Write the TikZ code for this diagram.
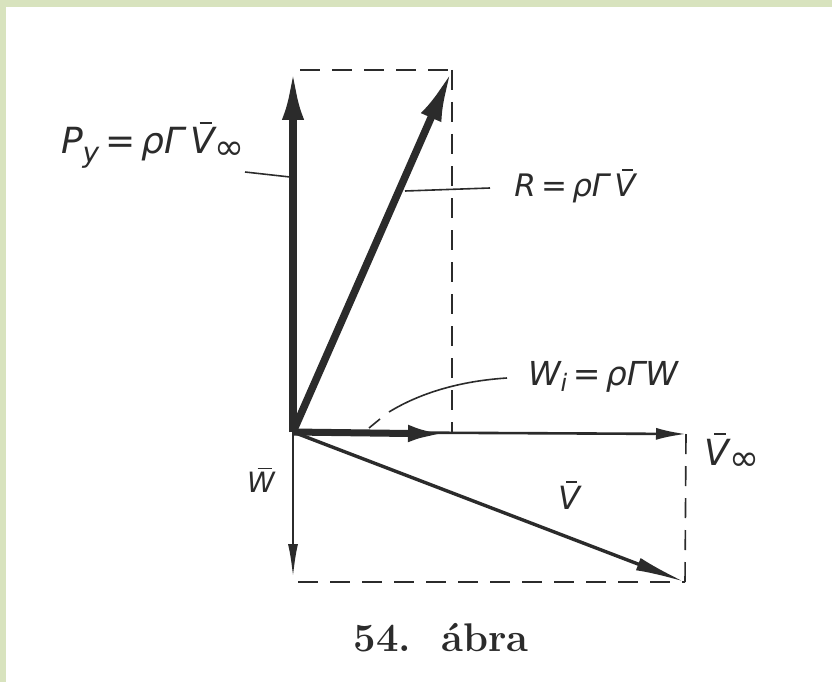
\documentclass[tikz,border=0pt]{standalone}
\usepackage{fontspec}
\newfontfamily\hand{DejaVu Sans}
\usetikzlibrary{arrows.meta}
\definecolor{bord}{HTML}{D8E3BE}
\definecolor{ink}{HTML}{2B2B2B}
\newcommand\ovbar[1]{\setbox0\hbox{#1}\rlap{\kern.38\wd0\raisebox{\dimexpr\ht0+.1em\relax}{\rule{.5\wd0}{.06em}}}#1}
\begin{document}
\begin{tikzpicture}[x=1pt,y=-1pt,
  dsh/.style={draw=ink, line width=1.6pt, dash pattern=on 20pt off 12pt},
  lead/.style={draw=ink, line width=1.6pt},
  lbl/.style={text=ink, inner sep=0pt, font=\hand\itshape},
  vec/.style={draw=ink}]
\fill[bord] (0,0) rectangle (832,682);
\fill[white] (6,7) rectangle (832,682);
\useasboundingbox (0,0) rectangle (832,682);

\coordinate (O) at (293,432);
\coordinate (T) at (293,70);
\coordinate (Rt) at (452,70);
\coordinate (Rb) at (452,432);
\coordinate (Wi) at (448,434);
\coordinate (Vi) at (686,434);
\coordinate (V) at (685,582);
\coordinate (W) at (293,578);
\coordinate (Bl) at (298,582);
\coordinate (Tl) at (300,70);

% dashed construction lines
\draw[dsh] (Tl) -- (Rt);
\draw[dsh] (Rt) -- (Rb);
\draw[dsh] (Vi) -- (V);
\draw[dsh] (Bl) -- (V);

% vectors
\draw[vec, line width=2.6pt, -{Latex[length=30pt,width=12pt]}] (O) -- (Vi);
\draw[vec, line width=3.4pt, -{Latex[length=50pt,width=13pt]}] (O) -- (V);
\draw[vec, line width=2.6pt, -{Latex[length=34pt,width=10pt]}] (O) -- (W);
\draw[vec, line width=7pt, -{Latex[length=40pt,width=17pt]}] (O) -- (Wi);
\draw[vec, line width=7.5pt, -{Latex[length=50pt,width=22pt]}] (O) -- (T);
\draw[vec, line width=7.5pt, -{Latex[length=52pt,width=22pt]}] (O) -- (Rt);

% labels
\node[lbl, font=\hand\itshape\fontsize{36}{40}\selectfont] (py) at (153,145)
  {P\raisebox{-.45ex}{\fontsize{28}{30}\selectfont y}\,=\,ρΓ\,\ovbar{V}\raisebox{-.3ex}{∞}};
\node[lbl, font=\hand\itshape\fontsize{31}{34}\selectfont] (rl) at (575,186)
  {R\,=\,ρΓ\,\ovbar{V}};
\node[lbl, font=\hand\itshape\fontsize{33}{36}\selectfont] (wil) at (603,377)
  {W\raisebox{-.3ex}{\fontsize{24}{26}\selectfont i}\,=\,ρΓW};
\node[lbl, font=\hand\itshape\fontsize{36}{40}\selectfont] (vil) at (732,452)
  {\ovbar{V}\raisebox{-.3ex}{∞}};
\node[lbl, font=\hand\itshape\fontsize{28}{32}\selectfont] (wl) at (261,480)
  {\ovbar{W}};
\node[lbl, font=\hand\itshape\fontsize{32}{36}\selectfont] (vl) at (569,495)
  {\ovbar{V}};
\node[text=ink, inner sep=0pt, font=\fontsize{40}{44}\selectfont\bfseries] (cap) at (441,638)
  {54.\ \ ábra};

% leaders
\coordinate (pa) at (245,172);
\coordinate (pb) at (290,177);
\draw[lead] (pa) -- (pb);
\coordinate (ra) at (405,191);
\coordinate (rb) at (490,188);
\draw[lead] (ra) -- (rb);
\coordinate (wa) at (507,378);
\coordinate (wb) at (389,412);
\coordinate (wc) at (380,419);
\coordinate (wd) at (369,428);
\draw[lead] (wa) .. controls (460,381) and (420,393) .. (wb);
\draw[lead] (wc) -- (wd);
\end{tikzpicture}
\end{document}
